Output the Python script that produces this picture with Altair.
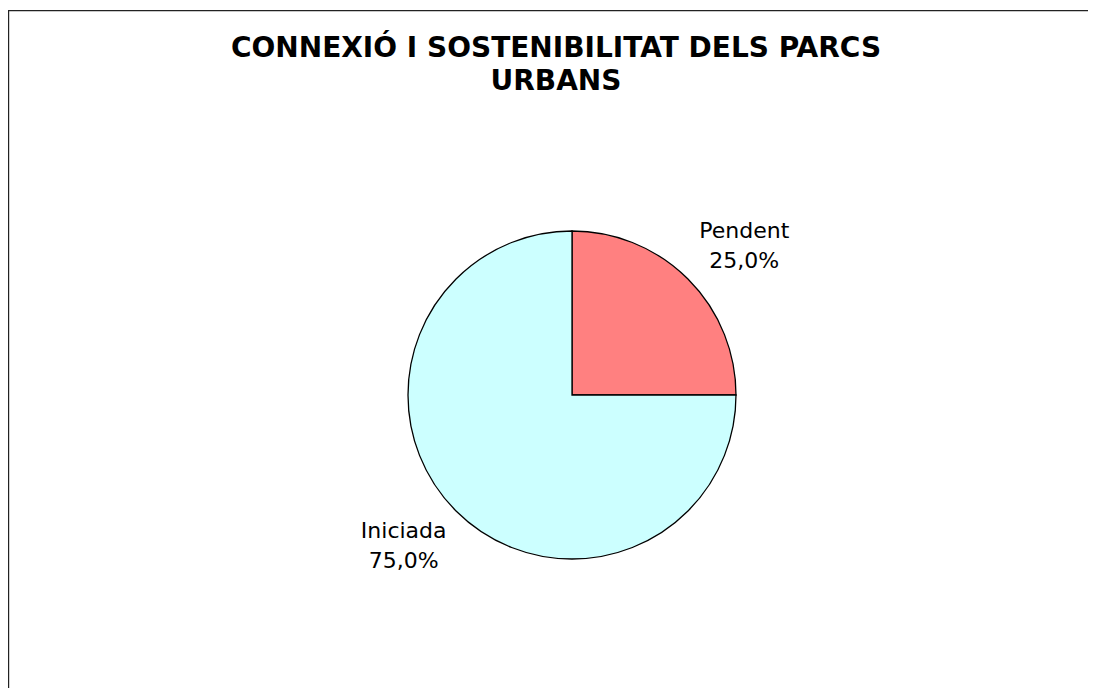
import altair as alt
import pandas as pd

categories = ["Pendent", "Iniciada"]
values = [25.0, 75.0]
colors = ["#FF8080", "#CCFFFF"]
title_lines = ["CONNEXIÓ I SOSTENIBILITAT DELS PARCS", "URBANS"]

labels = [f"{c}\n{v:.1f}%".replace(".", ",") for c, v in zip(categories, values)]
df = pd.DataFrame({"cat": categories, "val": values, "label": labels, "order": [0, 1]})

CX, CY, R = 564, 387, 164

base = alt.Chart(df).encode(
    theta=alt.Theta("val:Q", stack=True),
    order=alt.Order("order:Q"),
)

pie = base.mark_arc(stroke="black", strokeWidth=1.3, radius=R).encode(
    color=alt.Color("cat:N", scale=alt.Scale(domain=categories, range=colors), legend=None),
    x=alt.value(CX), y=alt.value(CY),
)

text = base.mark_text(
    radius=227, thetaOffset=0.063, dx=2, dy=-14,
    fontSize=22, font="DejaVu Sans", lineBreak="\n", lineHeight=30,
    align="center", baseline="middle", color="black",
).encode(text="label:N", x=alt.value(CX), y=alt.value(CY))

title_df = pd.DataFrame({"t": ["\n".join(title_lines)]})
title = alt.Chart(title_df).mark_text(
    fontSize=28, font="DejaVu Sans", fontWeight="bold", lineBreak="\n", lineHeight=33,
    align="center", baseline="alphabetic", color="black",
).encode(text="t:N", x=alt.value(548), y=alt.value(49))

border = alt.Chart(title_df).mark_rect(
    fill="white", stroke="#222222", strokeWidth=1.2,
).encode(x=alt.value(0.6), x2=alt.value(1300), y=alt.value(2.6), y2=alt.value(900))

chart = alt.layer(border, pie, text, title).properties(
    width=1080, height=680, padding=0, autosize=alt.AutoSizeParams(type="none"),
).configure_view(stroke=None)

chart.save("out.html", embed_options={"renderer": "svg", "actions": False})
